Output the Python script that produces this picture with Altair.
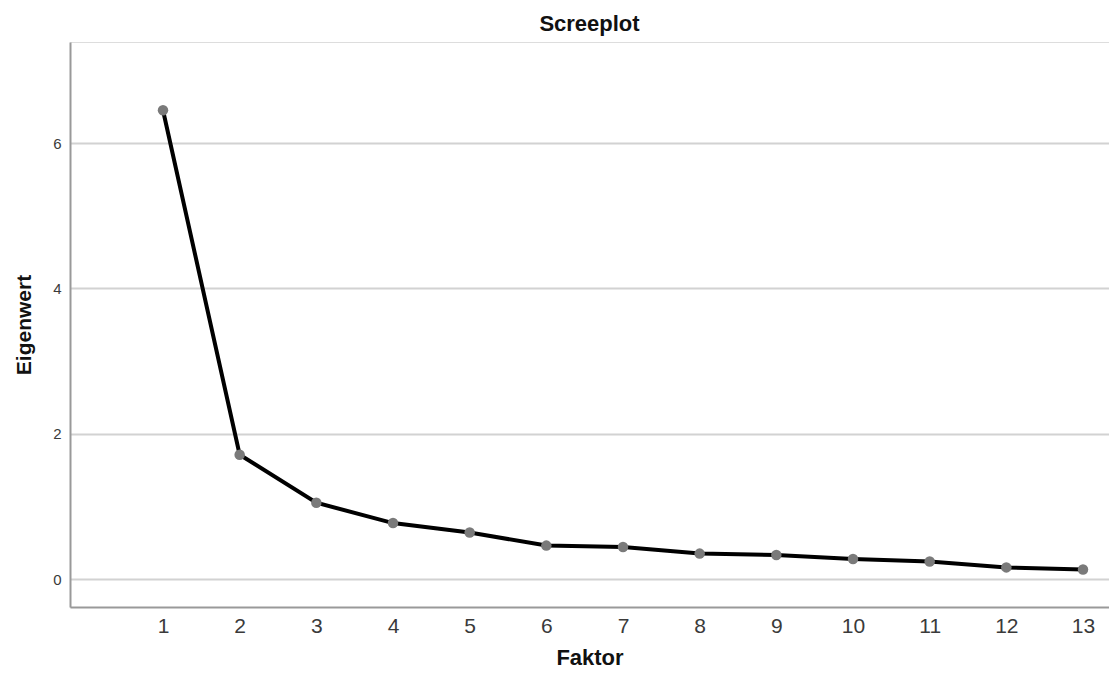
import altair as alt
import pandas as pd

faktor = [1, 2, 3, 4, 5, 6, 7, 8, 9, 10, 11, 12, 13]
eigenwert = [6.45, 1.71, 1.05, 0.77, 0.64, 0.46, 0.44, 0.35, 0.33, 0.275, 0.24, 0.16, 0.13]
y_ticks = [0, 2, 4, 6]

df = pd.DataFrame({"Faktor": faktor, "Eigenwert": eigenwert})

FONT = "Liberation Sans"

x = alt.X(
    "Faktor:Q",
    scale=alt.Scale(domain=[-0.213, 13.339], nice=False, zero=False),
    axis=alt.Axis(
        values=faktor,
        title="Faktor",
        grid=False,
        ticks=False,
        format="d",
        labelFontSize=21,
        labelFont=FONT,
        labelColor="#3a3a3a",
        labelPadding=8,
        domainColor="#999999",
        domainWidth=2,
        titleFont=FONT,
        titleFontSize=22,
        titleFontWeight="bold",
        titleColor="#111111",
        titlePadding=11,
    ),
)
y = alt.Y(
    "Eigenwert:Q",
    scale=alt.Scale(domain=[-0.385, 7.39], nice=False, zero=False),
    axis=alt.Axis(
        values=y_ticks,
        title="Eigenwert",
        grid=True,
        gridColor="#d2d2d2",
        gridWidth=2,
        ticks=False,
        format="d",
        labelFontSize=15,
        labelFont=FONT,
        labelColor="#3a3a3a",
        labelPadding=9,
        domainColor="#999999",
        domainWidth=2,
        titleFont=FONT,
        titleFontSize=21,
        titleFontWeight="bold",
        titleColor="#111111",
        titlePadding=18,
    ),
)

line = alt.Chart(df).mark_line(color="black", strokeWidth=4).encode(x=x, y=y)
points = alt.Chart(df).mark_circle(color="#7a7a7a", size=110, opacity=1).encode(x=x, y=y)

chart = (
    alt.layer(line, points)
    .properties(
        width=1039,
        height=565,
        title=alt.TitleParams(
            "Screeplot",
            font=FONT,
            fontSize=22,
            fontWeight="bold",
            color="#111111",
            anchor="middle",
            offset=6,
        ),
        autosize=alt.AutoSizeParams(type="none"),
        padding={"left": 62, "top": 34, "right": 0, "bottom": 63},
    )
    .configure_view(strokeWidth=0)
    .configure(background="white")
)

chart.save("out.html", embed_options={"renderer": "svg", "actions": False})
